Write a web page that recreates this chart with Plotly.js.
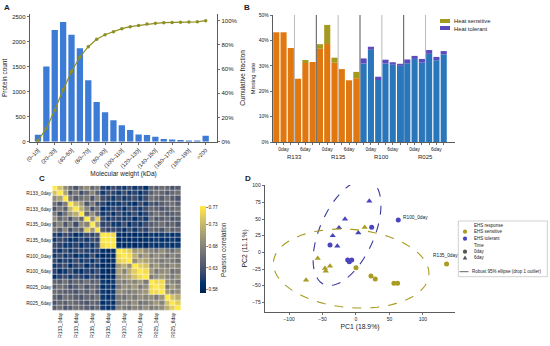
<!DOCTYPE html>
<html><head><meta charset="utf-8">
<script src="https://cdn.plot.ly/plotly-3.0.1.min.js"></script>
<style>html,body{margin:0;padding:0;background:#fff}#chart{width:550px;height:346px}</style>
</head><body><div id="chart"></div>
<script>
// ---------- Panel A data ----------
const mwBinLabels = ['(0–10]','(10–20]','(20–30]','(30–40]','(40–50]','(50–60]','(60–70]','(70–80]','(80–90]','(90–100]','(100–110]','(110–120]','(120–130]','(130–140]','(140–150]','(150–160]','(160–170]','(170–180]','(180–190]','(190–200]','>200'];
const mwCounts = [140,1500,2230,2390,2135,1865,1225,795,590,430,330,232,145,132,99,53,46,33,26,26,119];
const mwCumFrac = [0.01,0.11,0.26,0.43,0.58,0.70,0.785,0.846,0.884,0.909,0.934,0.95,0.961,0.972,0.978,0.983,0.984,0.986,0.988,0.99,1.0];

// ---------- Panel B data ----------
const cultivars = ['R133','R135','R100','R025'];
const timepoints = ['0day','6day'];
const sensBase = [0.432,0.432,0.370,0.249,0.311,0.315,0.367,0.386,0.312,0.287,0.243,0.251];
const sensCap  = [0,0,0,0,0.012,0,0.018,0.075,0.020,0,0,0.025];
const tolBase  = [0.309,0.363,0.244,0.309,0.304,0.300,0.310,0.327,0.312,0.347,0.322,0.345];
const tolCap   = [0.020,0.012,0.013,0.015,0.010,0.008,0.015,0.012,0.015,0.015,0.013,0.013];

// ---------- Panel C data (lower triangle of correlation matrix) ----------
const sampleNames = ['R133_0day','R133_6day','R135_0day','R135_6day','R100_0day','R100_6day','R025_0day','R025_6day'];
const corrLower = [
 [1],
 [0.74,1],
 [0.69,0.71,1],
 [0.66,0.63,0.67,1],
 [0.63,0.67,0.64,0.73,1],
 [0.67,0.62,0.66,0.70,0.72,1],
 [0.69,0.65,0.67,0.63,0.68,0.65,1],
 [0.65,0.68,0.63,0.67,0.62,0.69,0.68,1],
 [0.67,0.64,0.68,0.62,0.66,0.64,0.75,0.70,1],
 [0.61,0.60,0.62,0.61,0.59,0.60,0.62,0.61,0.63,1],
 [0.60,0.62,0.61,0.59,0.60,0.61,0.60,0.62,0.61,0.77,1],
 [0.62,0.61,0.60,0.60,0.61,0.59,0.61,0.60,0.62,0.76,0.77,1],
 [0.61,0.60,0.62,0.60,0.61,0.62,0.61,0.60,0.61,0.59,0.58,0.59,1],
 [0.60,0.62,0.60,0.61,0.59,0.60,0.60,0.62,0.59,0.58,0.59,0.58,0.76,1],
 [0.62,0.60,0.61,0.60,0.62,0.60,0.61,0.59,0.62,0.59,0.58,0.59,0.75,0.76,1],
 [0.60,0.61,0.62,0.59,0.61,0.62,0.59,0.61,0.60,0.58,0.59,0.58,0.70,0.72,0.69,1],
 [0.61,0.59,0.60,0.62,0.60,0.59,0.61,0.60,0.62,0.59,0.58,0.59,0.71,0.68,0.72,0.75,1],
 [0.59,0.61,0.62,0.60,0.62,0.61,0.60,0.62,0.61,0.58,0.59,0.58,0.69,0.70,0.71,0.74,0.76,1],
 [0.65,0.64,0.66,0.63,0.65,0.64,0.66,0.64,0.65,0.60,0.59,0.60,0.68,0.67,0.69,0.68,0.70,0.67,1],
 [0.64,0.66,0.65,0.62,0.64,0.66,0.63,0.65,0.64,0.59,0.60,0.59,0.67,0.69,0.68,0.70,0.67,0.69,0.76,1],
 [0.66,0.65,0.64,0.64,0.63,0.65,0.64,0.66,0.63,0.60,0.59,0.60,0.69,0.68,0.67,0.68,0.69,0.70,0.76,0.76,1],
 [0.65,0.63,0.66,0.65,0.64,0.63,0.65,0.64,0.66,0.60,0.59,0.60,0.67,0.66,0.68,0.67,0.69,0.68,0.69,0.67,0.70,1],
 [0.63,0.65,0.64,0.66,0.65,0.64,0.63,0.65,0.64,0.59,0.60,0.59,0.66,0.68,0.67,0.69,0.66,0.67,0.68,0.70,0.68,0.74,1],
 [0.64,0.66,0.63,0.64,0.66,0.65,0.64,0.63,0.65,0.60,0.59,0.60,0.68,0.67,0.66,0.68,0.67,0.69,0.67,0.68,0.69,0.72,0.75,1]
];
const corrTicks = [0.58,0.63,0.68,0.73,0.77];

// ---------- Panel D data ----------
const sens0PC1 = [0,22.4,28.8,56.7,62.2,135.4];
const sens0PC2 = [-23,-35.6,-40,-46.5,-46.5,-17.6];
const sens6PC1 = [13,-57.2,-38.8,-46.3,-45.2,-74.6];
const sens6PC2 = [37.5,-9,-20.6,-24,-28,-41.6];
const tol0PC1  = [63.2,23.4,-38.8,-12.4,-10,-6.4];
const tol0PC2  = [48.5,37.5,11,-11.6,-14,-11.6];
const tol6PC1  = [19.9,-16.4,-25.4,3.5,-34.8,-27.9];
const tol6PC2  = [77,50,37,29.4,25,9.5];
// ellipse parameters: centre x, centre y, semi-major, semi-minor, angle (deg)
const ellTol  = [-13.4, 29.7, 85, 40.6, 66];
const ellSens = [-7.2, -24.3, 116.6, 58.6, -5];

// ---------- styling ----------
const FONT = 'Liberation Sans, Arial, sans-serif';
const TXT = '#222';
const ORANGE = '#e0780f', BLUE = '#2a76bb', OLIVE = '#a39a1f', PURPLE = '#5a4cbd';
const PTBLUE = '#4a44bd', PTOLIVE = '#a99c20';
const BAR_A = '#3c7bd6', LINE_A = '#8f8f23';
const W = 550, H = 346;
const px = x => x / W, py = y => 1 - y / H;

const idxA = mwBinLabels.map((_, i) => i);
const nSamp = sensBase.length + tolBase.length;
const idxB = Array.from({length: nSamp}, (_, i) => i);
const idxS = idxB.slice(0, sensBase.length);
const idxT = idxB.slice(sensBase.length);

// full symmetric matrix
const n = corrLower.length;
const corr = [];
for (let i = 0; i < n; i++) { corr.push([]); for (let j = 0; j < n; j++) corr[i].push(j <= i ? corrLower[i][j] : corrLower[j][i]); }
const hmIdx = Array.from({length: n}, (_, i) => i);
const hmTickVals = sampleNames.map((_, g) => g * 3 + 1);

function ellipsePath(p) {
  const [cx, cy, a, b, deg] = p; const t = deg * Math.PI / 180; let d = '';
  for (let i = 0; i <= 90; i++) {
    const s = i / 90 * 2 * Math.PI;
    const x = cx + a * Math.cos(s) * Math.cos(t) - b * Math.sin(s) * Math.sin(t);
    const y = cy + a * Math.cos(s) * Math.sin(t) + b * Math.sin(s) * Math.cos(t);
    d += (i ? 'L' : 'M') + x.toFixed(2) + ',' + y.toFixed(2);
  }
  return d + 'Z';
}

const traces = [
  {type:'bar', x: idxA, y: mwCounts, xaxis:'x', yaxis:'y', marker:{color: BAR_A}, width:0.75, hoverinfo:'skip'},
  {type:'scatter', mode:'lines+markers', x: idxA, y: mwCumFrac, xaxis:'x', yaxis:'y2', line:{color: LINE_A, width:1.2}, marker:{color: LINE_A, size:3.5}},
  {type:'bar', x: idxS, y: sensBase, xaxis:'x2', yaxis:'y3', marker:{color: ORANGE}, width:0.84},
  {type:'bar', x: idxT, y: tolBase, xaxis:'x2', yaxis:'y3', marker:{color: BLUE}, width:0.84},
  {type:'bar', x: idxS, y: sensCap, base: sensBase, xaxis:'x2', yaxis:'y3', marker:{color: OLIVE}, width:0.84, name:'Heat sensitive'},
  {type:'bar', x: idxT, y: tolCap, base: tolBase, xaxis:'x2', yaxis:'y3', marker:{color: PURPLE}, width:0.84, name:'Heat tolerant'},
  {type:'heatmap', z: corr, x: hmIdx, y: hmIdx, xaxis:'x3', yaxis:'y4', colorscale:'Cividis', zmin:0.572, zmax:0.772, xgap:0.5, ygap:0.5,
   colorbar:{x: px(190), xanchor:'left', y: py(249.7), yanchor:'middle', len: 107/H, lenmode:'fraction', thickness:5.5, outlinewidth:0,
     tickvals: corrTicks, ticktext: corrTicks.map(v => v.toFixed(2)), ticks:'outside', ticklen:2, tickwidth:0.6, tickcolor:'#333',
     tickfont:{size:4.8, color:TXT, family:FONT}, title:{text:'Pearson correlation', side:'right', font:{size:6.3, color:TXT, family:FONT}}}},
  {type:'scatter', mode:'markers', x: sens0PC1, y: sens0PC2, xaxis:'x4', yaxis:'y5', marker:{color: PTOLIVE, size:5, symbol:'circle'}},
  {type:'scatter', mode:'markers', x: sens6PC1, y: sens6PC2, xaxis:'x4', yaxis:'y5', marker:{color: PTOLIVE, size:5.5, symbol:'triangle-up'}},
  {type:'scatter', mode:'markers', x: tol0PC1, y: tol0PC2, xaxis:'x4', yaxis:'y5', marker:{color: PTBLUE, size:5, symbol:'circle'}},
  {type:'scatter', mode:'markers', x: tol6PC1, y: tol6PC2, xaxis:'x4', yaxis:'y5', marker:{color: PTBLUE, size:5.5, symbol:'triangle-up'}}
];

const axBase = {showgrid:false, zeroline:false, showline:true, linecolor:'#333', linewidth:0.8, ticks:'outside', ticklen:2.5, tickwidth:0.7, tickcolor:'#333'};
const tf = s => ({size:s, color:TXT, family:FONT});

// B ticks
const bTickText = idxB.map(i => (i % 3 === 1) ? timepoints[Math.floor(i / 3) % 2] : '');

const shapes = [];
// B separator lines
for (let k = 1; k < nSamp / 3; k++) {
  const xv = k * 3 - 0.5; const major = (k % 2 === 0);
  shapes.push({type:'line', xref:'x2', yref:'y3 domain', x0:xv, x1:xv, y0:0, y1:1, layer:'below', line:{color: major ? '#555' : '#aaa', width: major ? 1 : 0.8}});
}
// D ellipses
shapes.push({type:'path', xref:'x4', yref:'y5', path: ellipsePath(ellTol), line:{color:'#3a3a9e', width:1.1, dash:'dash'}});
shapes.push({type:'path', xref:'x4', yref:'y5', path: ellipsePath(ellSens), line:{color:'#a89a20', width:1.1, dash:'dash'}});
// B legend patches
shapes.push({type:'rect', xref:'paper', yref:'paper', x0:px(440), x1:px(450), y0:py(23), y1:py(19), fillcolor: OLIVE, line:{width:0}});
shapes.push({type:'rect', xref:'paper', yref:'paper', x0:px(440), x1:px(450), y0:py(30), y1:py(26), fillcolor: PURPLE, line:{width:0}});
// D legend
shapes.push({type:'rect', xref:'paper', yref:'paper', x0:px(458.3), x1:px(547.3), y0:py(276.7), y1:py(221), line:{color:'#bbb', width:0.7}, fillcolor:'rgba(255,255,255,0.9)'});
const circ = (cx, cy, r, col) => ({type:'circle', xref:'paper', yref:'paper', x0:px(cx - r), x1:px(cx + r), y0:py(cy + r), y1:py(cy - r), fillcolor: col, line:{width:0}});
shapes.push(circ(465, 231.7, 2.1, PTOLIVE));
shapes.push(circ(465, 238.7, 2.1, PTBLUE));
shapes.push(circ(465, 251.7, 2.1, '#555'));
shapes.push({type:'path', xref:'paper', yref:'paper', path:`M${px(462.7)},${py(259.6)}L${px(467.3)},${py(259.6)}L${px(465)},${py(255.4)}Z`, fillcolor:'#555', line:{width:0}});
shapes.push({type:'line', xref:'paper', yref:'paper', x0:px(459.5), x1:px(469), y0:py(271.7), y1:py(271.7), line:{color:'#555', width:0.9, dash:'dash'}});

const ann = [];
const letter = (t, x, y) => ({text:'<b>' + t + '</b>', xref:'paper', yref:'paper', x:px(x), y:py(y), xanchor:'left', yanchor:'top', showarrow:false, font:tf(8)});
ann.push(letter('A', 2, 1), letter('B', 242, 1), letter('C', 37, 172), letter('D', 243, 172));
// B group names
cultivars.forEach((c, g) => ann.push({text:c, xref:'x2', yref:'paper', x: g * 6 + 2.5, y: py(157), yanchor:'middle', showarrow:false, font:tf(6)}));
// B legend text
ann.push({text:'Heat sensitive', xref:'paper', yref:'paper', x:px(452), y:py(21.5), xanchor:'left', yanchor:'middle', showarrow:false, font:tf(5.8)});
ann.push({text:'Heat tolerant', xref:'paper', yref:'paper', x:px(452), y:py(29), xanchor:'left', yanchor:'middle', showarrow:false, font:tf(5.8)});
// D labels
ann.push({text:'R100_0day', xref:'x4', yref:'y5', x:67, y:53, xanchor:'left', yanchor:'middle', showarrow:false, font:tf(4.8)});
ann.push({text:'R135_0day', xref:'x4', yref:'y5', x:112, y:-5, xanchor:'left', yanchor:'middle', showarrow:false, font:tf(4.8)});
// D legend text
const legTxt = [['EHS response',226],['EHS sensitive',231.7],['EHS tolerant',238.7],['Time',245],['0day',251.7],['6day',257.7]];
legTxt.forEach(([t, y]) => ann.push({text:t, xref:'paper', yref:'paper', x:px(472), y:py(y), xanchor:'left', yanchor:'middle', showarrow:false, font:tf(4.5)}));
ann.push({text:'Robust 95% ellipse (drop 1 outlier)', xref:'paper', yref:'paper', x:px(469.5), y:py(271.7), xanchor:'left', yanchor:'middle', showarrow:false, font:tf(4.5)});

const layout = {
  width: W, height: H, margin:{l:0, r:0, t:0, b:0}, paper_bgcolor:'#fff', plot_bgcolor:'rgba(0,0,0,0)',
  showlegend:false, barmode:'overlay', font:{family:FONT, color:TXT},
  xaxis: Object.assign({}, axBase, {domain:[px(30), px(217)], anchor:'y', range:[-0.95, 21.35],
    tickvals: idxA.filter(i => i % 2 === 0), ticktext: idxA.filter(i => i % 2 === 0).map(i => mwBinLabels[i]),
    tickangle:-45, tickfont:tf(5.6), title:{text:'Molecular weight (kDa)', font:tf(6.5), standoff:2}}),
  yaxis: Object.assign({}, axBase, {domain:[py(141.7), py(14)], anchor:'x', range:[0, 2550], tickvals:[0,500,1000,1500,2000,2500],
    tickfont:tf(6), title:{text:'Protein count', font:tf(6.5), standoff:3}}),
  yaxis2: Object.assign({}, axBase, {overlaying:'y', side:'right', anchor:'x', range:[0, 1.055], tickvals:[0,0.2,0.4,0.6,0.8,1.0],
    tickformat:'.0%', tickfont:tf(6), title:{text:'Cumulative fraction', font:tf(6.5), standoff:3}}),
  xaxis2: Object.assign({}, axBase, {domain:[px(273), px(455)], anchor:'y3', range:[-0.45, 24.55], tickvals: idxB, ticktext: bTickText,
    ticklen:2, tickfont:tf(5)}),
  yaxis3: Object.assign({}, axBase, {domain:[py(142), py(15)], anchor:'x2', range:[0, 0.5], dtick:0.1, tickformat:'.0%',
    tickfont:tf(5), title:{text:'Missing rate', font:tf(5.8), standoff:2}}),
  xaxis3: {domain:[px(52.3), px(181)], anchor:'y4', range:[-0.5, n - 0.5], tickvals: hmTickVals, ticktext: sampleNames, tickangle:-90,
    showgrid:false, zeroline:false, showline:false, ticks:'', tickfont:tf(4.9)},
  yaxis4: {domain:[py(310.7), py(185.7)], anchor:'x3', range:[n - 0.5, -0.5], tickvals: hmTickVals, ticktext: sampleNames,
    showgrid:false, zeroline:false, showline:false, ticks:'', tickfont:tf(4.9)},
  xaxis4: Object.assign({}, axBase, {domain:[px(265), px(455)], anchor:'y5', range:[-136, 148], tickvals:[-100,-50,0,50,100],
    tickfont:tf(5), title:{text:'PC1 (18.9%)', font:tf(6.8), standoff:3}}),
  yaxis5: Object.assign({}, axBase, {domain:[py(311.7), py(185)], anchor:'x4', range:[-89, 101], tickvals:[-75,-50,-25,0,25,50,75,100],
    tickfont:tf(5), title:{text:'PC2 (11.1%)', font:tf(6.8), standoff:3}}),
  shapes: shapes, annotations: ann
};

Plotly.newPlot('chart', traces, layout, {staticPlot:true, displayModeBar:false});
</script></body></html>
